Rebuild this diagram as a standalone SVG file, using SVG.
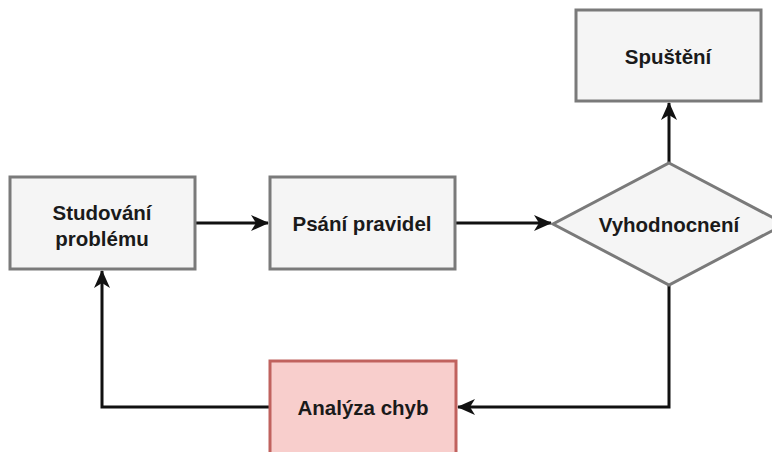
<svg xmlns="http://www.w3.org/2000/svg" width="772" height="452" viewBox="0 0 772 452">
<style>
.box{fill:#f5f5f5;stroke:#7a7a7a;stroke-width:3}
.red{fill:#f8cecc;stroke:#c0625e;stroke-width:3}
.lbl{font-family:"Liberation Sans",Arial,sans-serif;font-weight:bold;font-size:20.5px;fill:#1a1a1a;text-anchor:middle;dominant-baseline:central}
.edge{fill:none;stroke:#111;stroke-width:3}
</style>
<defs>
<marker id="arr" viewBox="0 0 18 16" refX="17" refY="8" markerWidth="18" markerHeight="16" markerUnits="userSpaceOnUse" orient="auto">
<path d="M0,0 L18,8 L0,16 L5,8 Z" fill="#111"/>
</marker>
</defs>
<rect width="772" height="452" fill="#fff"/>
<g id="edges">
<path class="edge" d="M195,223 L268,223" marker-end="url(#arr)"/>
<path class="edge" d="M455,223 L551,223" marker-end="url(#arr)"/>
<path class="edge" d="M669,163 L669,103" marker-end="url(#arr)"/>
<path class="edge" d="M669,285 L669,407 L458,407" marker-end="url(#arr)"/>
<path class="edge" d="M270,407 L102,407 L102,271" marker-end="url(#arr)"/>
</g>
<g id="studovani">
<rect class="box" x="10" y="177" width="185" height="92"/>
<text class="lbl" x="102" y="212">Studování</text>
<text class="lbl" x="102" y="238">problému</text>
</g>
<g id="psani">
<rect class="box" x="270" y="177" width="185" height="92"/>
<text class="lbl" x="362" y="223">Psání pravidel</text>
</g>
<g id="spusteni">
<rect class="box" x="576" y="10" width="185" height="91"/>
<text class="lbl" x="668" y="56">Spuštění</text>
</g>
<g id="vyhodnoceni">
<path class="box" d="M669,163 L785,224 L669,285 L553,224 Z"/>
<text class="lbl" x="669" y="224">Vyhodnocnení</text>
</g>
<g id="analyza">
<rect class="red" x="270" y="361" width="186" height="93"/>
<text class="lbl" x="363" y="407">Analýza chyb</text>
</g>
</svg>
